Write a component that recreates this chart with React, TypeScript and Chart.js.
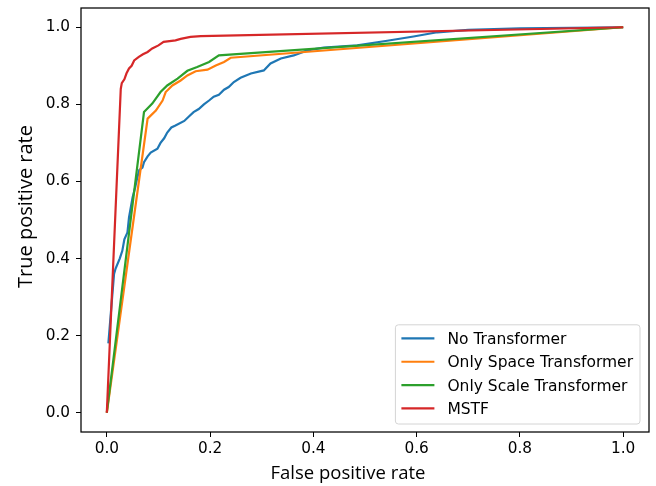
import React, { useEffect, useRef } from "react";
import { Chart, registerables } from "chart.js";

Chart.register(...registerables);

// ---------- data ----------
const NO_TRANSFORMER_X = [
  0.003, 0.014, 0.017, 0.025, 0.03, 0.034, 0.04, 0.043, 0.05, 0.055, 0.059, 0.063,
  0.069, 0.072, 0.079, 0.085, 0.098, 0.104, 0.111, 0.117, 0.125, 0.133, 0.15, 0.16,
  0.168, 0.178, 0.188, 0.198, 0.207, 0.217, 0.227, 0.236, 0.246, 0.259, 0.279, 0.304,
  0.317, 0.337, 0.362, 0.388, 0.42, 0.485, 0.543, 0.594, 0.64, 0.7, 0.8, 1.0,
];
const NO_TRANSFORMER_Y = [
  0.18, 0.36, 0.374, 0.4, 0.42, 0.45, 0.468, 0.507, 0.559, 0.585, 0.61, 0.63,
  0.636, 0.65, 0.665, 0.675, 0.685, 0.7, 0.712, 0.727, 0.74, 0.745, 0.757, 0.77,
  0.78, 0.788, 0.8, 0.81, 0.82, 0.825, 0.838, 0.845, 0.858, 0.869, 0.88, 0.888,
  0.906, 0.919, 0.927, 0.94, 0.947, 0.953, 0.965, 0.976, 0.987, 0.993, 0.997, 1.0,
];

const SPACE_X = [
  0, 0.079, 0.095, 0.108, 0.114, 0.127, 0.143, 0.156, 0.172, 0.195, 0.211, 0.227, 0.24, 1.0,
];
const SPACE_Y = [
  0, 0.763, 0.784, 0.81, 0.832, 0.849, 0.862, 0.875, 0.886, 0.89, 0.901, 0.91, 0.921, 1.0,
];

const SCALE_X = [0, 0.072, 0.088, 0.104, 0.117, 0.137, 0.156, 0.175, 0.198, 0.217, 1.0];
const SCALE_Y = [0, 0.78, 0.802, 0.832, 0.849, 0.867, 0.887, 0.897, 0.91, 0.927, 1.0];

const MSTF_X = [
  0, 0.027, 0.029, 0.034, 0.038, 0.043, 0.048, 0.053, 0.062, 0.07, 0.079, 0.088,
  0.1, 0.11, 0.133, 0.143, 0.162, 0.182, 1.0,
];
const MSTF_Y = [
  0, 0.84, 0.855, 0.865, 0.88, 0.893, 0.9, 0.914, 0.923, 0.93, 0.936, 0.945,
  0.953, 0.962, 0.966, 0.97, 0.975, 0.977, 1.0,
];

const SERIES_LABELS = [
  "No Transformer",
  "Only Space Transformer",
  "Only Scale Transformer",
  "MSTF",
];
const SERIES_COLORS = ["#1f77b4", "#ff7f0e", "#2ca02c", "#d62728"];

const X_TICKS = [0, 0.2, 0.4, 0.6, 0.8, 1.0];
const Y_TICKS = [0, 0.2, 0.4, 0.6, 0.8, 1.0];
const X_TITLE = "False positive rate";
const Y_TITLE = "True positive rate";

const TICK_FONT = "DejaVu Sans";
const TITLE_FONT = "Open Sans";

const zip = (xs: number[], ys: number[]) => xs.map((x, i) => ({ x, y: ys[i] }));

// ---------- plugins ----------
const framePlugin = {
  id: "frame",
  afterDatasetsDraw(chart: any) {
    const { ctx, chartArea: a } = chart;
    ctx.save();
    ctx.strokeStyle = "#000";
    ctx.lineWidth = 1.25;
    ctx.strokeRect(a.left, a.top, a.right - a.left, a.bottom - a.top);
    ctx.restore();
  },
};

const legendPlugin = {
  id: "boxLegend",
  afterDraw(chart: any) {
    const { ctx, chartArea: a } = chart;
    const ds = chart.data.datasets;
    const fontSize = 15.5;
    ctx.save();
    ctx.font = `${fontSize}px "${TICK_FONT}"`;
    const rowH = 23.3;
    const padL = 6, lineLen = 33, gap = 13, padR = 7, padT = 2, padB = 4;
    let maxW = 0;
    ds.forEach((d: any) => (maxW = Math.max(maxW, ctx.measureText(d.label).width)));
    const w = padL + lineLen + gap + maxW + padR;
    const h = padT + padB + rowH * ds.length;
    const right = a.right - 9;
    const bottom = a.bottom - 8;
    const left = right - w;
    const top = bottom - h;
    ctx.beginPath();
    const r = 3;
    ctx.moveTo(left + r, top);
    ctx.arcTo(right, top, right, bottom, r);
    ctx.arcTo(right, bottom, left, bottom, r);
    ctx.arcTo(left, bottom, left, top, r);
    ctx.arcTo(left, top, right, top, r);
    ctx.closePath();
    ctx.fillStyle = "rgba(255,255,255,0.8)";
    ctx.fill();
    ctx.strokeStyle = "#d4d4d4";
    ctx.lineWidth = 1;
    ctx.stroke();
    ds.forEach((d: any, i: number) => {
      const cy = top + padT + rowH * (i + 0.5);
      ctx.beginPath();
      ctx.strokeStyle = d.borderColor;
      ctx.lineWidth = 2.2;
      ctx.moveTo(left + padL, cy);
      ctx.lineTo(left + padL + lineLen, cy);
      ctx.stroke();
      ctx.fillStyle = "#000";
      ctx.textAlign = "left";
      ctx.textBaseline = "alphabetic";
      ctx.fillText(d.label, left + padL + lineLen + gap, cy + fontSize * 0.729 / 2);
    });
    ctx.restore();
  },
};

const titlesPlugin = {
  id: "axisTitles",
  afterDraw(chart: any) {
    const { ctx, chartArea: a } = chart;
    ctx.save();
    ctx.fillStyle = "#000";
    ctx.textAlign = "center";
    ctx.textBaseline = "alphabetic";
    // x title
    ctx.font = `18.5px "${TITLE_FONT}"`;
    const cx = (a.left + a.right) / 2 - 17;
    ctx.fillText(X_TITLE, cx, a.bottom + 47);
    // y title
    ctx.font = `20px "${TITLE_FONT}"`;
    const cy = (a.top + a.bottom) / 2 - 13.5;
    ctx.translate(a.left - 49.5, cy);
    ctx.rotate(-Math.PI / 2);
    ctx.fillText(Y_TITLE, 0, 0);
    ctx.restore();
  },
};

export default function App() {
  const ref = useRef<HTMLCanvasElement | null>(null);

  useEffect(() => {
    document.body.style.margin = "0";
    const canvas = ref.current!;
    const seriesX = [NO_TRANSFORMER_X, SPACE_X, SCALE_X, MSTF_X];
    const seriesY = [NO_TRANSFORMER_Y, SPACE_Y, SCALE_Y, MSTF_Y];
    const datasets = SERIES_LABELS.map((label, i) => ({
      label,
      data: zip(seriesX[i], seriesY[i]),
      borderColor: SERIES_COLORS[i],
      backgroundColor: SERIES_COLORS[i],
      borderWidth: 2.2,
      showLine: true,
      pointRadius: 0,
      pointHoverRadius: 0,
      fill: false,
      tension: 0,
      order: SERIES_LABELS.length - i,
    }));

    const tickFont = { family: TICK_FONT, size: 15.3 };
    const chart = new Chart(canvas, {
      type: "scatter",
      data: { datasets },
      options: {
        animation: false,
        responsive: false,
        maintainAspectRatio: false,
        layout: { padding: { top: 8, right: 7, left: 0, bottom: 0 } },
        plugins: { legend: { display: false }, tooltip: { enabled: false } },
        scales: {
          x: {
            type: "linear",
            min: -0.05,
            max: 1.05,
            afterBuildTicks: (axis: any) => {
              axis.ticks = X_TICKS.map((v) => ({ value: v }));
            },
            afterFit: (s: any) => {
              s.height = 54;
              s.paddingLeft = 0;
              s.paddingRight = 0;
            },
            ticks: {
              font: tickFont,
              color: "#000",
              padding: 3,
              maxRotation: 0,
              callback: (v: any) => Number(v).toFixed(1),
            },
            grid: {
              display: true,
              drawOnChartArea: false,
              drawTicks: true,
              tickLength: 5,
              color: "#000",
              lineWidth: 1,
            },
            border: { display: false },
          },
          y: {
            type: "linear",
            min: -0.05,
            max: 1.05,
            afterBuildTicks: (axis: any) => {
              axis.ticks = Y_TICKS.map((v) => ({ value: v }));
            },
            afterFit: (s: any) => {
              s.width = 81;
              s.paddingTop = 0;
              s.paddingBottom = 0;
            },
            ticks: {
              font: tickFont,
              color: "#000",
              padding: 6,
              callback: (v: any) => Number(v).toFixed(1),
            },
            grid: {
              display: true,
              drawOnChartArea: false,
              drawTicks: true,
              tickLength: 5,
              color: "#000",
              lineWidth: 1,
            },
            border: { display: false },
          },
        },
      },
      plugins: [framePlugin, legendPlugin, titlesPlugin],
    } as any);
    return () => chart.destroy();
  }, []);

  return (
    <div style={{ width: 656, height: 486, background: "#fff" }}>
      <canvas ref={ref} width={656} height={486} style={{ display: "block" }} />
    </div>
  );
}
